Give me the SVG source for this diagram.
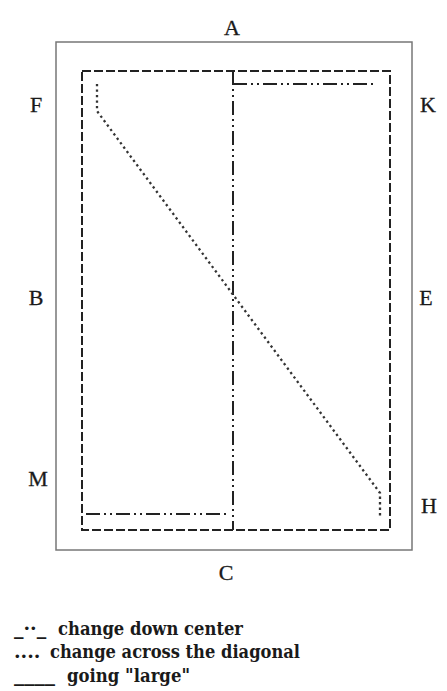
<svg xmlns="http://www.w3.org/2000/svg" width="447" height="691" viewBox="0 0 447 691">
<style>
.lbl{font-family:"Liberation Serif","DejaVu Serif",serif;font-size:22px;fill:#1a1a1a;text-anchor:middle;stroke:#1a1a1a;stroke-width:0.3}
.leg{font-family:"DejaVu Serif","Liberation Serif",serif;font-size:19px;font-weight:bold;fill:#1a1a1a}
.outer{fill:none;stroke:#777;stroke-width:1.5}
.dash{fill:none;stroke:#222;stroke-width:2;stroke-dasharray:9 3}
.dashdot{fill:none;stroke:#222;stroke-width:2;stroke-dasharray:14 4 2 4 2 4}
.dot{fill:none;stroke:#333;stroke-width:2.3;stroke-dasharray:2.3 3.2}
</style>
<rect width="447" height="691" fill="#fff"/>
<g id="frame">
<rect class="outer" x="56" y="42" width="356" height="508"/>
</g>
<g id="connectors">
<rect class="dash" x="82" y="71" width="308" height="459"/>
<path class="dashdot" d="M233 71 V530"/>
<path fill="none" stroke="#222" stroke-width="2" d="M233 71 V84"/>
<path class="dashdot" d="M233 84 H376"/>
<path class="dashdot" d="M86 514 H229"/>
<path class="dot" d="M97 84 V111 L380 493 V518"/>
</g>
<g id="labels">
<text class="lbl" x="232" y="35">A</text>
<text class="lbl" x="226" y="580">C</text>
<text class="lbl" x="36" y="112">F</text>
<text class="lbl" x="428" y="112">K</text>
<text class="lbl" x="36" y="305">B</text>
<text class="lbl" x="426" y="305">E</text>
<text class="lbl" x="38" y="486">M</text>
<text class="lbl" x="429" y="513">H</text>
</g>
<g id="legend">
<text class="leg" x="14" y="635">_··_</text>
<text class="leg" x="58" y="635" textLength="185" lengthAdjust="spacingAndGlyphs">change down center</text>
<text class="leg" x="14" y="658">....</text>
<text class="leg" x="50" y="658" textLength="250" lengthAdjust="spacingAndGlyphs">change across the diagonal</text>
<text class="leg" x="14" y="682" textLength="41" lengthAdjust="spacingAndGlyphs">____</text>
<text class="leg" x="67" y="682" textLength="123" lengthAdjust="spacingAndGlyphs">going "large"</text>
</g>
</svg>
